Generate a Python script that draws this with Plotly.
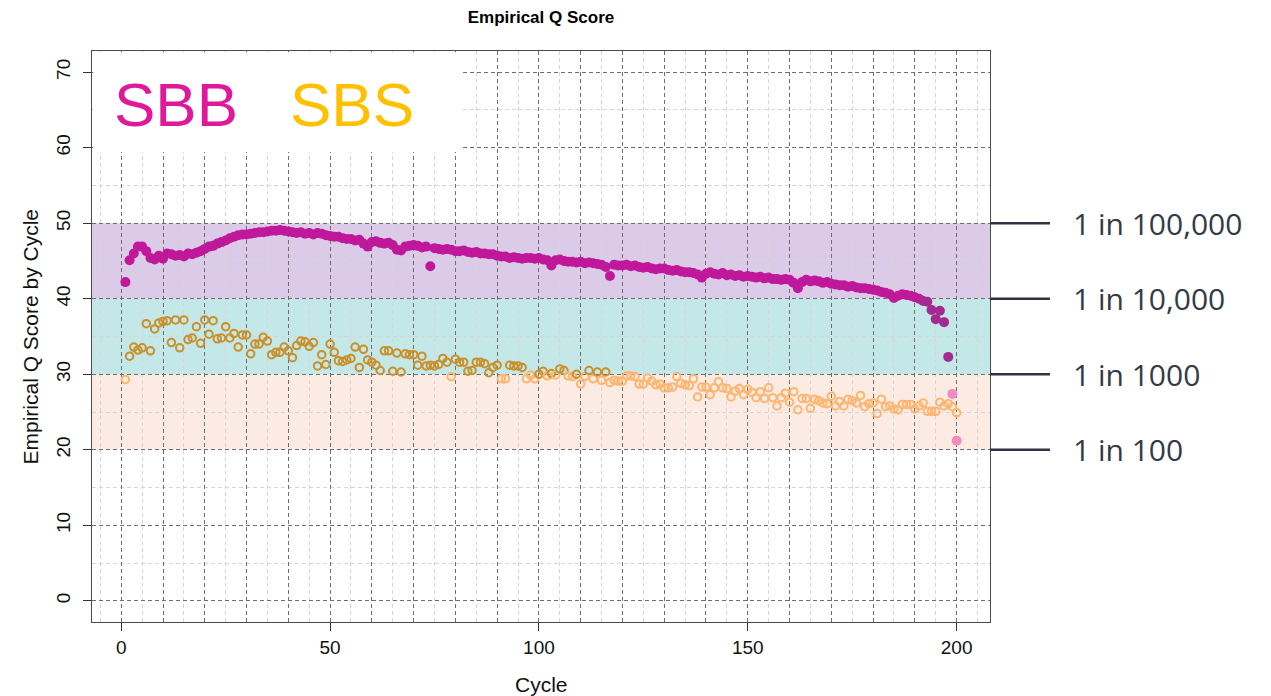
import plotly.graph_objects as go

cycles = list(range(1, 201))

sbb_q = [
    42.2, 45.1, 46.0, 46.9, 46.9, 46.3, 45.4, 45.2, 45.7, 45.3,
    46.0, 45.9, 45.7, 45.8, 45.6, 46.0, 45.9, 46.1, 46.3, 46.6,
    46.9, 47.0, 47.3, 47.5, 47.7, 48.0, 48.2, 48.4, 48.5, 48.5,
    48.6, 48.7, 48.8, 48.8, 48.9, 49.0, 49.0, 49.1, 49.0, 48.9,
    48.8, 48.7, 48.8, 48.6, 48.7, 48.5, 48.7, 48.6, 48.4, 48.3,
    48.2, 48.2, 48.0, 47.9, 47.9, 47.7, 47.8, 47.3, 46.9, 47.5,
    47.6, 47.4, 47.3, 47.4, 47.1, 46.5, 46.4, 46.9, 47.0, 47.1,
    47.0, 46.8, 46.9, 44.3, 46.7, 46.6, 46.5, 46.6, 46.5, 46.3,
    46.3, 46.4, 46.2, 46.1, 46.2, 46.0, 46.0, 45.9, 45.9, 45.7,
    45.6, 45.6, 45.4, 45.5, 45.4, 45.3, 45.4, 45.4, 45.3, 45.4,
    45.2, 45.1, 44.4, 45.1, 45.2, 45.0, 44.9, 44.9, 44.8, 44.9,
    44.7, 44.8, 44.7, 44.6, 44.5, 44.2, 43.0, 44.5, 44.4, 44.4,
    44.5, 44.3, 44.4, 44.2, 44.1, 44.2, 44.0, 43.9, 44.0, 44.0,
    43.8, 43.7, 43.8, 43.6, 43.5, 43.5, 43.4, 43.2, 42.8, 43.3,
    43.5, 43.3, 43.2, 43.4, 43.1, 43.2, 43.0, 43.1, 42.9, 43.0,
    42.9, 42.8, 42.9, 42.7, 42.8, 42.6, 42.6, 42.5, 42.6, 42.5,
    42.1, 41.4, 42.2, 42.5, 42.3, 42.4, 42.3, 42.1, 42.2, 42.0,
    41.9, 41.8, 41.8, 41.6, 41.7, 41.5, 41.4, 41.4, 41.3, 41.2,
    41.1, 40.9, 40.8, 40.6, 40.1, 40.4, 40.6, 40.5, 40.4, 40.2,
    40.0, 39.7, 39.6, 38.5, 37.3, 38.4, 36.9, 32.3, 27.4, 21.2,
]

sbs_q = [
    29.3, 32.4, 33.6, 33.2, 33.5, 36.7, 33.1, 36.0, 36.8, 37.0,
    37.1, 34.2, 37.2, 33.5, 37.2, 34.6, 34.8, 36.3, 34.1, 37.2,
    35.3, 37.1, 34.7, 34.8, 36.3, 34.8, 35.4, 33.6, 35.2, 35.2,
    32.7, 34.0, 34.0, 34.9, 34.4, 32.6, 32.9, 32.9, 33.6, 33.1,
    32.2, 33.8, 34.4, 34.3, 33.7, 34.2, 31.1, 32.6, 31.3, 34.0,
    32.9, 31.8, 31.7, 31.9, 32.1, 33.6, 30.9, 33.3, 31.9, 31.6,
    31.2, 30.5, 33.1, 33.1, 30.4, 32.8, 30.3, 32.7, 32.6, 32.6,
    31.2, 32.4, 31.1, 31.2, 31.1, 31.3, 32.1, 31.6, 29.7, 32.0,
    31.6, 31.6, 30.4, 30.5, 31.6, 31.6, 31.4, 30.2, 30.9, 31.2,
    29.4, 29.4, 31.2, 31.1, 31.1, 30.9, 29.4, 29.9, 29.4, 30.0,
    30.4, 29.8, 30.1, 29.9, 30.7, 30.5, 29.8, 29.7, 30.0, 28.7,
    29.7, 30.5, 29.4, 30.3, 29.2, 30.3, 28.9, 29.2, 29.1, 29.1,
    29.8, 29.8, 29.7, 28.7, 28.7, 29.5, 29.1, 28.6, 28.7, 28.2,
    28.2, 28.3, 29.7, 28.8, 28.6, 28.5, 29.4, 27.0, 28.3, 28.3,
    27.3, 28.2, 29.0, 28.2, 28.1, 27.0, 27.8, 28.1, 27.3, 28.0,
    27.6, 26.9, 27.7, 26.8, 28.2, 26.9, 25.8, 26.9, 27.5, 26.3,
    27.7, 25.3, 26.8, 26.8, 25.5, 26.7, 26.5, 26.2, 26.1, 27.1,
    25.8, 26.4, 25.8, 26.7, 26.5, 26.2, 27.2, 25.7, 26.1, 26.2,
    24.8, 26.7, 25.7, 25.8, 25.4, 25.3, 26.0, 26.0, 26.0, 25.4,
    25.8, 26.2, 25.1, 25.1, 25.1, 26.3, 25.8, 26.1, 25.7, 24.9,
]

band_edges = [20, 30, 40, 50]
error_labels = ["1 in 100", "1 in 1000", "1 in 10,000", "1 in 100,000"]
band_colors = ["#fcebe3", "#c4e8e8", "#dccbe8"]
x_ticks = [0, 50, 100, 150, 200]
y_ticks = [0, 10, 20, 30, 40, 50, 60, 70]
x_range = [-7, 208]
y_range = [-2.8, 72.8]


def sbb_color(q):
    if q >= 40:
        return "#c0189a"
    if q >= 30:
        return "#a42a92"
    return "#f08cc0"


def sbs_color(q):
    return "#c99029" if q >= 30 else "#fdb56f"


fig = go.Figure()

fig.add_trace(go.Scatter(
    x=cycles, y=sbs_q, mode="markers", name="SBS",
    marker=dict(symbol="circle-open", size=7.5,
                color=[sbs_color(q) for q in sbs_q],
                line=dict(width=2, color=[sbs_color(q) for q in sbs_q])),
    showlegend=False,
))
fig.add_trace(go.Scatter(
    x=cycles, y=sbb_q, mode="markers", name="SBB",
    marker=dict(symbol="circle", size=10,
                color=[sbb_color(q) for q in sbb_q], line=dict(width=0)),
    showlegend=False,
))
# helper trace so the labelled x axis is drawn
fig.add_trace(go.Scatter(x=[None], y=[None], xaxis="x2", yaxis="y",
                         showlegend=False, hoverinfo="skip"))

# quality bands
for i, col in enumerate(band_colors):
    fig.add_shape(type="rect", xref="x domain", yref="y",
                  x0=0, x1=1, y0=band_edges[i], y1=band_edges[i + 1],
                  fillcolor=col, line=dict(width=0), layer="below")

# white legend box (inset so the frame stays visible)
fig.add_shape(type="rect", xref="paper", yref="paper",
              x0=0.0015, x1=0.412, y0=0.823, y1=0.998,
              fillcolor="white", line=dict(width=0), layer="above")

fig.add_annotation(text="SBB", xref="paper", yref="paper", x=0.0935, y=0.907,
                   showarrow=False, xanchor="center", yanchor="middle",
                   font=dict(family="Liberation Sans, Arial", size=62, color="#e0189a"))
fig.add_annotation(text="SBS", xref="paper", yref="paper", x=0.289, y=0.907,
                   showarrow=False, xanchor="center", yanchor="middle",
                   font=dict(family="Liberation Sans, Arial", size=62, color="#ffc000"))

# right-side error-rate markers
for edge, lab in zip(band_edges, error_labels):
    yp = (edge - y_range[0]) / (y_range[1] - y_range[0])
    fig.add_shape(type="line", xref="paper", yref="paper",
                  x0=1.0, x1=1.0668, y0=yp, y1=yp,
                  line=dict(color="#2d3340", width=2.5), layer="above")
    fig.add_annotation(text=lab, xref="paper", yref="y", x=1.090, y=edge,
                       showarrow=False, xanchor="left", yanchor="middle",
                       font=dict(family="Open Sans", size=30, color="#333a46"))

# axis titles
fig.add_annotation(text="Empirical Q Score by Cycle", xref="paper", yref="paper",
                   x=-0.069, y=0.5, textangle=-90, showarrow=False,
                   xanchor="center", yanchor="middle",
                   font=dict(family="Liberation Sans, Arial", size=21, color="#111"))
fig.add_annotation(text="Cycle", xref="paper", yref="paper",
                   x=0.5, y=-0.1086, showarrow=False,
                   xanchor="center", yanchor="middle",
                   font=dict(family="Liberation Sans, Arial", size=21, color="#111"))

grid_major = "#6e6e6e"
grid_minor = "#d6d6d6"
dash = "4px,3px"

W, H = 1263, 688
fig.update_layout(
    width=W, height=H,
    margin=dict(l=84, r=281, t=43, b=74),
    paper_bgcolor="white", plot_bgcolor="white",
    title=dict(text="<b>Empirical Q Score</b>", x=0.5, xref="paper", xanchor="center",
               y=1 - 9 / H, yanchor="middle",
               font=dict(family="Liberation Sans, Arial", size=17, color="#000")),
    xaxis=dict(range=x_range, tick0=0, dtick=10, showticklabels=False, ticks="",
               showgrid=True, gridcolor=grid_major, griddash=dash, gridwidth=1,
               minor=dict(tick0=0, dtick=5, showgrid=True, gridcolor=grid_minor,
                          griddash=dash, gridwidth=1),
               zeroline=False, showline=True, linecolor="#4a4a4a", linewidth=1.3,
               mirror=True),
    xaxis2=dict(range=x_range, overlaying="x", anchor="y", side="bottom",
                tickvals=x_ticks, ticks="outside", ticklen=8, tickcolor="#333",
                showgrid=False, zeroline=False, showline=False,
                tickfont=dict(family="Liberation Sans, Arial", size=19, color="#111")),
    yaxis=dict(range=y_range, tickvals=y_ticks, ticks="outside", ticklen=8,
               tickcolor="#333", tickangle=-90, ticklabelstandoff=5,
               tickfont=dict(family="Liberation Sans, Arial", size=19, color="#111"),
               showgrid=True, gridcolor=grid_major, griddash=dash, gridwidth=1,
               minor=dict(tick0=0, dtick=5, showgrid=True, gridcolor=grid_minor,
                          griddash=dash, gridwidth=1),
               zeroline=False, showline=True, linecolor="#4a4a4a", linewidth=1.3,
               mirror=True),
)

fig.write_html("out.html")
